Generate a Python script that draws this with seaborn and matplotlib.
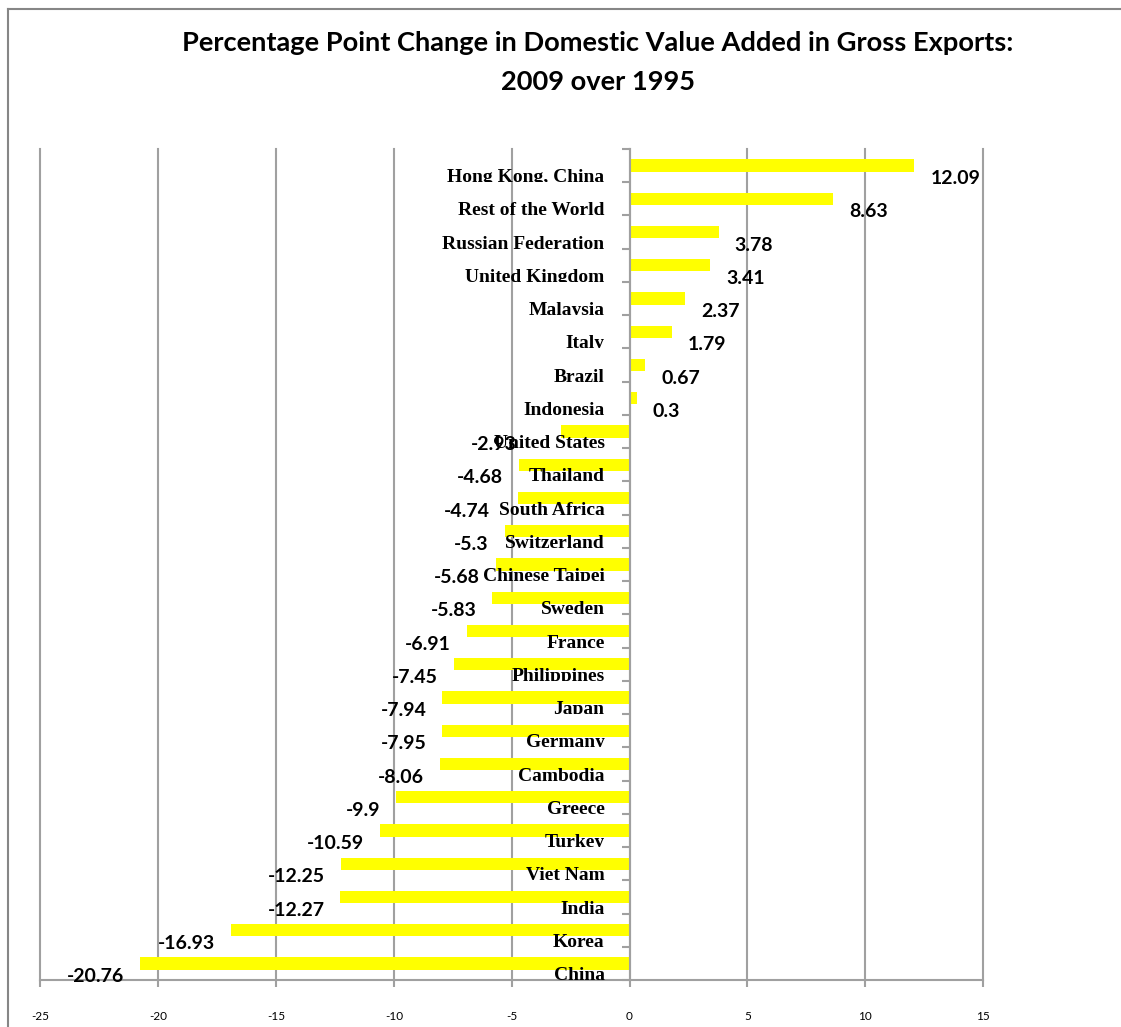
import matplotlib
matplotlib.use("Agg")
import matplotlib.pyplot as plt
import seaborn as sns
import pandas as pd
from matplotlib.transforms import Bbox, TransformedBbox
from matplotlib.lines import Line2D

# ---------------- data ----------------
categories = [
    "Hong Kong, China", "Rest of the World", "Russian Federation", "United Kingdom",
    "Malaysia", "Italy", "Brazil", "Indonesia", "United States", "Thailand",
    "South Africa", "Switzerland", "Chinese Taipei", "Sweden", "France",
    "Philippines", "Japan", "Germany", "Cambodia", "Greece", "Turkey",
    "Viet Nam", "India", "Korea", "China",
]
values = [
    12.09, 8.63, 3.78, 3.41, 2.37, 1.79, 0.67, 0.3, -2.93, -4.68,
    -4.74, -5.3, -5.68, -5.83, -6.91, -7.45, -7.94, -7.95, -8.06, -9.9,
    -10.59, -12.25, -12.27, -16.93, -20.76,
]
title_lines = [
    "Percentage Point Change in Domestic Value Added in Gross Exports:",
    "2009 over 1995",
]
x_ticks = [-25, -20, -15, -10, -5, 0, 5, 10, 15]

# a few value labels sit further left in the original chart (pixels)
label_nudge_px = {"United States": -28, "South Africa": -12}

# ---------------- figure ----------------
W, H, DPI = 1121, 1027, 100
fig = plt.figure(figsize=(W / DPI, H / DPI), dpi=DPI)
fig.patch.set_facecolor("white")
ax = fig.add_axes([40.5 / W, (H - 980) / H, (983 - 40.5) / W, (980 - 149) / H])

df = pd.DataFrame({"country": categories, "change": values})
sns.barplot(data=df, x="change", y="country", orient="h", color="#FFFF00",
            saturation=1, width=0.37, linewidth=0, ax=ax)

grid_c = "#A0A0A0"
ax.set_xlim(-25, 15)
ax.set_ylim(len(categories) - 0.5, -0.5)
ax.set_xticks(x_ticks)
ax.set_xticklabels([str(t) for t in x_ticks])
ax.set_yticks([i - 0.5 for i in range(len(categories) + 1)])
ax.set_yticklabels([])
ax.set_xlabel("")
ax.set_ylabel("")
ax.grid(False)
ax.grid(axis="x", color=grid_c, lw=1.5)
for gl in ax.get_xgridlines():
    gl.set_clip_on(False)
ax.set_axisbelow(True)
for s in ["top", "right"]:
    ax.spines[s].set_visible(False)
ax.spines["left"].set_position(("data", 0))
ax.spines["left"].set_color(grid_c)
ax.spines["left"].set_linewidth(1.5)
ax.spines["bottom"].set_color(grid_c)
ax.spines["bottom"].set_linewidth(1.5)
ax.tick_params(axis="x", direction="out", length=5, width=1.5, color=grid_c,
               pad=17, labelsize=8.5, labelcolor="black")
ax.tick_params(axis="y", direction="out", length=6, width=1.5, color=grid_c)
for lab in ax.get_xticklabels():
    lab.set_fontfamily("Lato")

# category labels (clipped at the slot bottom like the original)
for i, name in enumerate(categories):
    t = ax.annotate(name, xy=(0, i + 0.5), xytext=(-25, 0), textcoords="offset pixels",
                    ha="right", va="baseline", fontfamily="Liberation Serif",
                    fontweight="bold", fontsize=14, annotation_clip=False, zorder=5)
    t.set_clip_box(TransformedBbox(Bbox([[-25, i - 0.5], [0, i + 0.5]]), ax.transData))
    t.set_clip_on(True)

# value labels
for i, (name, v) in enumerate(zip(categories, values)):
    off = 16 if v >= 0 else -16
    off += label_nudge_px.get(name, 0)
    ax.annotate(f"{v:g}", xy=(v, i + 0.5), xytext=(off, -2), textcoords="offset pixels",
                ha="left" if v >= 0 else "right", va="baseline", fontfamily="Lato",
                fontweight="bold", fontsize=14, annotation_clip=False, zorder=6)

# title
fig.text(598 / W, 1 - 51 / H, title_lines[0], ha="center", va="baseline",
         fontfamily="Lato", fontweight="bold", fontsize=19.6)
fig.text(598 / W, 1 - 90 / H, title_lines[1], ha="center", va="baseline",
         fontfamily="Lato", fontweight="bold", fontsize=19.6)

# outer chart border (left and top visible)
bc = "#868686"
fig.add_artist(Line2D([7.5 / W, 7.5 / W], [0, 1 - 8.5 / H], transform=fig.transFigure,
                      color=bc, lw=1.5))
fig.add_artist(Line2D([7.5 / W, 1], [1 - 8.5 / H, 1 - 8.5 / H], transform=fig.transFigure,
                      color=bc, lw=1.5))

fig.savefig("out.png", dpi=DPI)
